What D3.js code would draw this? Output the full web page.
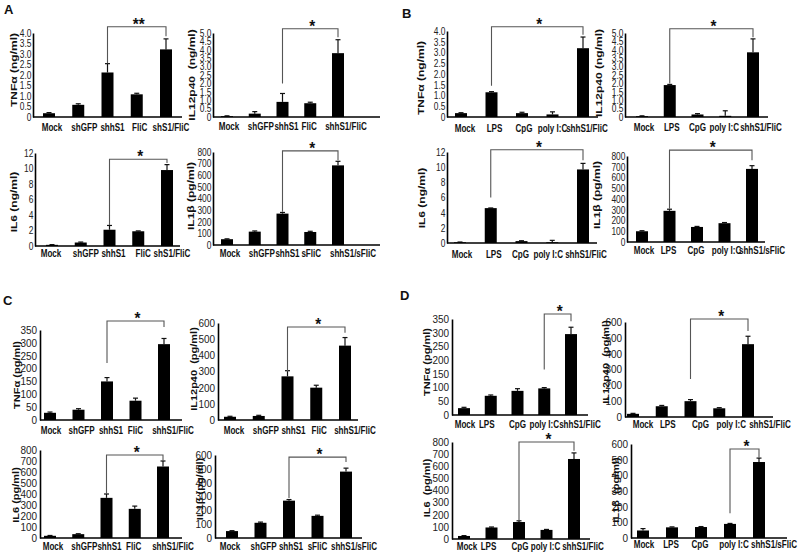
<!DOCTYPE html>
<html><head><meta charset="utf-8">
<script src="https://cdn.jsdelivr.net/npm/d3@7"></script>
<style>
body{margin:0;background:#fff}
svg{display:block}
text{font-family:Arial,"Liberation Sans",Helvetica,sans-serif}
</style>
</head><body>
<svg id="c" width="798" height="554"></svg>
<script>
// ---------- categories ----------
const catsA1 = ["Mock","shGFP","shhS1","FliC","shS1/FliC"];
const catsA2 = ["Mock","shGFP","shhS1","FliC","shhS1/FliC"];
const catsA4 = ["Mock","shGFP","shhS1","sFliC","shhS1/sFliC"];
const catsB  = ["Mock","LPS","CpG","poly I:C","shhS1/FliC"];
const catsB4 = ["Mock","LPS","CpG","poly I:C","shhS1/sFliC"];
const catsC  = ["Mock","shGFP","shhS1","FliC","shhS1/FliC"];
const catsC4 = ["Mock","shGFP","shhS1","sFliC","shhS1/sFliC"];

// ---------- values (mean) and error bars ----------
const valA1 = [0.18,0.58,2.12,1.08,3.22],  errA1 = [0.03,0.05,0.42,0.05,0.5];
const valA2 = [0.05,0.2,0.9,0.82,3.8],     errA2 = [0.02,0.12,0.5,0.06,0.8];
const valA3 = [0.15,0.45,2.1,1.9,9.8],     errA3 = [0.03,0.06,0.55,0.05,0.7];
const valA4 = [50,115,270,112,685],        errA4 = [3,6,10,6,35];
const valB1 = [0.18,1.15,0.18,0.12,3.2],   errB1 = [0.02,0.03,0.04,0.12,0.52];
const valB2 = [0.05,1.9,0.15,0.07,3.85],   errB2 = [0.02,0.04,0.05,0.3,0.8];
const valB3 = [0.1,4.6,0.25,0.1,9.7],      errB3 = [0.03,0.02,0.05,0.25,0.8];
const valB4 = [100,290,140,175,680],       errB4 = [5,15,5,6,30];
const valC1 = [28,40,150,75,295],          errC1 = [3,4,15,10,22];
const valC2 = [20,25,270,200,460],         errC2 = [3,4,35,15,50];
const valC3 = [20,35,365,265,650],         errC3 = [3,4,35,25,50];
const valC4 = [50,110,270,160,480],        errC4 = [3,5,8,5,25];
const valD1 = [25,70,88,97,295],           errD1 = [3,3,8,3,25];
const valD2 = [20,68,100,55,460],          errD2 = [3,5,10,4,50];
const valD3 = [25,95,140,75,660],          errD3 = [3,4,10,4,50];
const valD4 = [48,68,70,90,485],           errD4 = [12,3,3,3,25];

// ---------- axis maxima / tick steps ----------
const axisMax  = [4,5,12,800, 4,5,12,800, 350,600,800,600, 350,600,800,600];
const axisStep = [0.5,0.5,2,100, 0.5,0.5,2,100, 50,100,100,100, 50,100,100,100];

// ---------- significance brackets: [from, to, top value, left end, right end, mark] ----------
const brackets = [
  [2,4,4.3,2.56,3.85,"**"], [2,4,5.25,2.0,4.75,"*"], [2,4,11.2,2.7,10.7,"*"], [2,4,810,285,730,"*"],
  [1,4,4.2,1.45,3.82,"*"],  [1,4,5.25,2.0,4.75,"*"], [1,4,12.3,6.0,10.9,"*"], [1,4,855,310,760,"*"],
  [2,4,385,222,362,"*"],    [2,4,575,300,540,"*"],   [2,4,755,400,700,"*"],   [2,4,585,290,550,"*"],
  [3,4,368,166,342,"*"],    [2,4,619,240,543,"*"],   [2,4,800,152,727,"*"],   [3,4,568,158,512,"*"]
];

// ---------- y-axis titles ----------
const yTitles = [
  "TNFα (ng/ml)","IL12p40  (ng/ml)","IL6 (ng/ml)","IL1β (pg/ml)",
  "TNFα (ng/ml)","IL12p40 (ng/ml)","IL6 (ng/ml)","IL1β (pg/ml)",
  "TNFα (pg/ml)","IL12p40  (pg/ml)","IL6 (pg/ml)","IL1β (pg/ml)",
  "TNFα (pg/ml)","IL12p40  (pg/ml)","IL6  (pg/ml)","IL1β  (pg/ml)"
];
const panelLetters = ["A","B","C","D"];

const charts = [
  {cats:catsA1,vals:valA1,errs:errA1},{cats:catsA2,vals:valA2,errs:errA2},
  {cats:catsA1,vals:valA3,errs:errA3},{cats:catsA4,vals:valA4,errs:errA4},
  {cats:catsB,vals:valB1,errs:errB1},{cats:catsB,vals:valB2,errs:errB2},
  {cats:catsB,vals:valB3,errs:errB3},{cats:catsB4,vals:valB4,errs:errB4},
  {cats:catsC,vals:valC1,errs:errC1},{cats:catsC,vals:valC2,errs:errC2},
  {cats:catsC,vals:valC3,errs:errC3},{cats:catsC4,vals:valC4,errs:errC4},
  {cats:catsB,vals:valD1,errs:errD1},{cats:catsB,vals:valD2,errs:errD2},
  {cats:catsB,vals:valD3,errs:errD3},{cats:catsB4,vals:valD4,errs:errD4}
];

// ---------- layout (pixels) ----------
const layout = [
  {x0:33, x1:182,c0:49, c1:166,yT:33, yB:117,lx:14,  ly:70, cy:131,dx:[3,6,5,3,5]},
  {x0:213,x1:380,c0:227,c1:338,yT:33, yB:117,lx:192, ly:75, cy:130,dx:[2,6,4,-1,8]},
  {x0:35, x1:180,c0:52, c1:167,yT:153,yB:246,lx:14,  ly:202,cy:257,dx:[-1,5,4,5,5]},
  {x0:213,x1:380,c0:227,c1:338,yT:152,yB:245,lx:191, ly:196,cy:257,dx:[3,7,5,1,15]},
  {x0:447,x1:598,c0:461,c1:583,yT:31, yB:117,lx:421, ly:78, cy:132,dx:[4,3,2,0,4]},
  {x0:625,x1:768,c0:642,c1:753,yT:33, yB:117,lx:599, ly:73, cy:131,dx:[2,2,0,-1,8]},
  {x0:447,x1:597,c0:460,c1:583,yT:152,yB:243,lx:422, ly:198,cy:258,dx:[2,3,-1,-4,3]},
  {x0:627,x1:765,c0:642,c1:752,yT:156,yB:242,lx:597, ly:195,cy:254,dx:[2,-1,-1,2,10]},
  {x0:40, x1:182,c0:50, c1:164,yT:330,yB:420,lx:17,  ly:375,cy:434,dx:[1,3,4,0,9]},
  {x0:218,x1:358,c0:230,c1:345,yT:323,yB:420,lx:194, ly:369,cy:434,dx:[4,7,6,3,10]},
  {x0:40, x1:182,c0:50, c1:163,yT:450,yB:538,lx:16,  ly:495,cy:550,dx:[3,6,3,-1,10]},
  {x0:215,x1:362,c0:232,c1:346,yT:455,yB:538,lx:200, ly:489,cy:550,dx:[-2,3,2,0,8]},
  {x0:452,x1:588,c0:464,c1:571,yT:319,yB:415,lx:427, ly:362,cy:428,dx:[1,-4,0,0,9]},
  {x0:625,x1:773,c0:633,c1:748,yT:322,yB:417,lx:606, ly:362,cy:428,dx:[10,6,10,12,22]},
  {x0:452,x1:590,c0:464,c1:574,yT:442,yB:539,lx:427, ly:488,cy:550,dx:[3,-3,1,-1,9]},
  {x0:631,x1:787,c0:643,c1:759,yT:444,yB:538,lx:616, ly:490,cy:548,dx:[1,-1,-1,4,15]}
];
const letterPos = [{x:4,y:14},{x:402,y:18},{x:3,y:305},{x:400,y:300}];

const svg = d3.select("#c");
const FONT = 'Arial,"Liberation Sans",Helvetica,sans-serif';
const BW = 12;

charts.forEach((ch, i) => {
  const L = layout[i];
  const panel = Math.floor(i / 4);
  const small = panel < 2;
  const g = svg.append("g");
  const y = d3.scaleLinear().domain([0, axisMax[i]]).range([L.yB, L.yT]);
  const x = d3.scalePoint().domain(ch.cats).range([L.c0, L.c1]);
  const rows = ch.cats.map((c, k) => ({c, v: ch.vals[k], e: ch.errs[k], dx: L.dx[k]}));

  // error bars
  g.selectAll("line.err").data(rows).join("line")
    .attr("x1", d => x(d.c)).attr("x2", d => x(d.c))
    .attr("y1", d => y(d.v)).attr("y2", d => y(d.v + d.e))
    .attr("stroke", "#111").attr("stroke-width", 1.2);
  g.selectAll("line.cap").data(rows).join("line")
    .attr("x1", d => x(d.c) - 2.5).attr("x2", d => x(d.c) + 2.5)
    .attr("y1", d => y(d.v + d.e)).attr("y2", d => y(d.v + d.e))
    .attr("stroke", "#111").attr("stroke-width", 1.2);
  // bars
  g.selectAll("rect").data(rows).join("rect")
    .attr("x", d => x(d.c) - BW / 2).attr("width", BW)
    .attr("y", d => y(d.v)).attr("height", d => y(0) - y(d.v))
    .attr("fill", "#000");

  // y axis
  const ticks = d3.range(0, axisMax[i] + axisStep[i] / 2, axisStep[i]);
  const fmt = axisStep[i] < 1 ? (d => d === 0 ? "0" : d3.format(".1f")(d)) : d3.format("d");
  const ax = d3.axisLeft(y).tickValues(ticks).tickSize(0).tickSizeOuter(0)
    .tickPadding(small ? 2 : 3).tickFormat(fmt);
  const ag = g.append("g").attr("transform", `translate(${L.x0},0)`).call(ax);
  ag.select(".domain").attr("stroke", "#000").attr("stroke-width", 1.6);
  ag.selectAll("text")
    .attr("font-family", FONT).attr("font-size", 10.5)
    .attr("fill", "#222")
    .attr("transform", `scale(${small ? 0.8 : 0.95},1)`);

  // x axis line
  g.append("line").attr("x1", L.x0).attr("x2", L.x1)
    .attr("y1", y(0)).attr("y2", y(0))
    .attr("stroke", "#000").attr("stroke-width", 1.6);

  // category labels
  g.selectAll("text.cat").data(rows).join("text")
    .attr("class", "cat")
    .attr("transform", d => `translate(${x(d.c) + d.dx},${L.cy}) scale(0.77,1)`)
    .attr("text-anchor", "middle")
    .attr("font-family", FONT).attr("font-weight", "bold").attr("font-size", 10.5)
    .attr("fill", "#111")
    .text(d => d.c);

  // y title
  g.append("text")
    .attr("transform", `translate(${L.lx},${L.ly}) scale(0.78,1) rotate(-90)`)
    .attr("text-anchor", "middle").attr("dominant-baseline", "central")
    .attr("font-family", FONT).attr("font-weight", "bold")
    .attr("font-size", small ? 12 : 11)
    .style("white-space", "pre")
    .attr("fill", "#111")
    .text(yTitles[i]);

  // significance bracket
  const b = brackets[i];
  const xa = x(ch.cats[b[0]]), xb = x(ch.cats[b[1]]);
  g.append("path")
    .attr("d", `M${xa},${y(b[3])}V${y(b[2])}H${xb}V${y(b[4])}`)
    .attr("fill", "none").attr("stroke", "#555").attr("stroke-width", 1.1);
  g.append("text")
    .attr("transform", `translate(${(xa + xb) / 2 + 2},${y(b[2]) + 3}) scale(0.9,1)`)
    .attr("text-anchor", "middle")
    .attr("font-family", FONT).attr("font-weight", "bold").attr("font-size", 17)
    .attr("fill", "#111")
    .text(b[5]);
});

// panel letters
svg.selectAll("text.letter").data(panelLetters).join("text")
  .attr("class", "letter")
  .attr("x", (d, k) => letterPos[k].x).attr("y", (d, k) => letterPos[k].y)
  .attr("font-family", FONT).attr("font-weight", "bold").attr("font-size", 13)
  .attr("fill", "#111")
  .text(d => d);
</script>
</body></html>
